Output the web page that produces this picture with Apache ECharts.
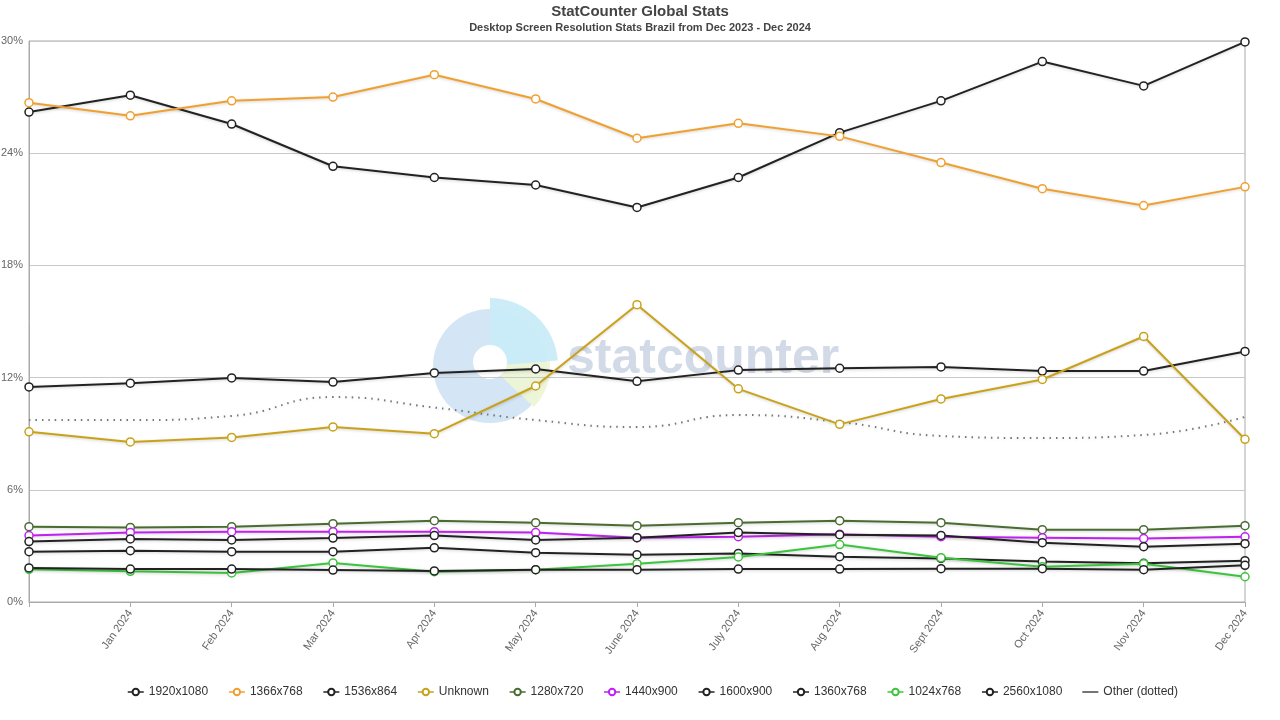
<!DOCTYPE html>
<html><head><meta charset="utf-8">
<script src="https://cdn.jsdelivr.net/npm/echarts@6/dist/echarts.min.js"></script>
<style>html,body{margin:0;padding:0;background:#fff}#c{width:1280px;height:720px}</style>
</head><body><div id="c"></div>
<script>
const months = ['Dec 2023','Jan 2024','Feb 2024','Mar 2024','Apr 2024','May 2024','June 2024','July 2024','Aug 2024','Sept 2024','Oct 2024','Nov 2024','Dec 2024'];
const yTicks = [0, 6, 12, 18, 24, 30];
const r1920x1080 = [26.2, 27.1, 25.56, 23.3, 22.7, 22.3, 21.1, 22.7, 25.1, 26.8, 28.9, 27.6, 29.95];
const r1366x768 = [26.7, 26.0, 26.8, 27.0, 28.2, 26.9, 24.8, 25.6, 24.9, 23.5, 22.1, 21.2, 22.2];
const r1536x864 = [11.5, 11.7, 11.98, 11.76, 12.25, 12.46, 11.8, 12.4, 12.5, 12.57, 12.35, 12.35, 13.4];
const rUnknown = [9.1, 8.56, 8.8, 9.36, 9.0, 11.55, 15.9, 11.4, 9.5, 10.86, 11.9, 14.2, 8.7];
const r1280x720 = [4.03, 3.99, 4.03, 4.19, 4.35, 4.24, 4.08, 4.24, 4.35, 4.24, 3.87, 3.87, 4.08];
const r1440x900 = [3.55, 3.72, 3.76, 3.76, 3.76, 3.71, 3.44, 3.49, 3.62, 3.49, 3.44, 3.39, 3.49];
const r1600x900 = [3.23, 3.37, 3.32, 3.42, 3.55, 3.32, 3.44, 3.71, 3.6, 3.56, 3.17, 2.96, 3.12];
const r1360x768 = [2.69, 2.74, 2.69, 2.69, 2.90, 2.64, 2.53, 2.60, 2.42, 2.33, 2.16, 2.07, 2.21];
const r1024x768 = [1.75, 1.64, 1.55, 2.09, 1.62, 1.73, 2.05, 2.41, 3.07, 2.37, 1.89, 2.05, 1.35];
const r2560x1080 = [1.82, 1.76, 1.76, 1.71, 1.66, 1.73, 1.73, 1.76, 1.76, 1.78, 1.78, 1.73, 1.96];
const rOther = [9.73, 9.73, 9.95, 10.96, 10.4, 9.73, 9.36, 10.0, 9.63, 8.88, 8.77, 8.93, 9.9];

const seriesDefs = [
  ['1920x1080', r1920x1080, '#222222'],
  ['1366x768', r1366x768, '#f0a030'],
  ['1536x864', r1536x864, '#222222'],
  ['Unknown', rUnknown, '#c9a21a'],
  ['1280x720', r1280x720, '#4a6b32'],
  ['1440x900', r1440x900, '#c020f0'],
  ['1600x900', r1600x900, '#222222'],
  ['1360x768', r1360x768, '#222222'],
  ['1024x768', r1024x768, '#3cc43c'],
  ['2560x1080', r2560x1080, '#222222']
];

const series = seriesDefs.map(([name, data, color]) => ({
  name, type: 'line', data,
  symbol: 'circle', symbolSize: 8, showSymbol: true,
  itemStyle: { color: '#fff', borderColor: color, borderWidth: 1.5 },
  lineStyle: { color, width: 2, shadowColor: 'rgba(0,0,0,0.18)', shadowBlur: 3, shadowOffsetY: 1 },
  emphasis: { disabled: true },
  z: 3
}));
series.push({
  name: 'Other (dotted)', type: 'line', data: rOther, smooth: 0.5,
  showSymbol: false, symbol: 'none',
  itemStyle: { color: '#666' },
  lineStyle: { color: '#777', width: 2, type: [1.5, 5], shadowColor: 'rgba(0,0,0,0.12)', shadowBlur: 3, shadowOffsetY: 1 },
  emphasis: { disabled: true },
  z: 2
});

const legendData = seriesDefs.map(([name]) => ({ name, lineStyle: { width: 1.5, shadowBlur: 0, shadowOffsetY: 0 } }));
legendData.push({ name: 'Other (dotted)', icon: 'path://M0,0M0,8M0,3.1H16V4.9H0Z', itemStyle: { color: '#666', borderWidth: 0 } });

const chart = echarts.init(document.getElementById('c'), null, { renderer: 'canvas' });
chart.setOption({
  animation: false,
  backgroundColor: '#fff',
  textStyle: { fontFamily: 'Liberation Sans, Arial, sans-serif' },
  title: [
    { text: 'StatCounter Global Stats', left: 'center', top: -1, textStyle: { fontSize: 15, fontWeight: 'bold', color: '#444' } },
    { text: 'Desktop Screen Resolution Stats Brazil from Dec 2023 - Dec 2024', left: 'center', top: 17, textStyle: { fontSize: 11, fontWeight: 'bold', color: '#444' } }
  ],
  graphic: [
    { type: 'group', z: 0, silent: true, children: [
      { type: 'circle', shape: { cx: 490, cy: 366, r: 57 }, style: { fill: '#cfe2f4', opacity: 0.9 } },
      { type: 'sector', shape: { cx: 490, cy: 366, r0: 0, r: 68, startAngle: -Math.PI/2, endAngle: -0.08 }, style: { fill: '#c9ecf8', opacity: 0.95 } },
      { type: 'sector', shape: { cx: 490, cy: 366, r0: 0, r: 60, startAngle: -0.08, endAngle: 0.75 }, style: { fill: '#eef5d6', opacity: 0.95 } },
      { type: 'circle', shape: { cx: 490, cy: 362, r: 17 }, style: { fill: '#ffffff' } },
      { type: 'text', left: 567, top: 334, style: { text: 'statcounter', font: 'bold 50px "Liberation Sans", Arial, sans-serif', fill: '#cdd6e4', opacity: 0.9 } }
    ]}
  ],
  legend: {
    bottom: 17, left: 122, itemGap: 20, itemWidth: 16, itemHeight: 8,
    textStyle: { fontSize: 12, color: '#333' },
    data: legendData
  },
  grid: { left: 29, right: 35, top: 41, bottom: 118, show: true, borderColor: '#aaa', borderWidth: 1, outerBoundsMode: 'none', containLabel: false },
  xAxis: {
    type: 'category', data: months, boundaryGap: false,
    axisLine: { lineStyle: { color: '#aaa' } },
    axisTick: { show: true, alignWithLabel: true, length: 5, lineStyle: { color: '#aaa' } },
    axisLabel: { rotate: 55, color: '#666', fontSize: 11, margin: 9, interval: 0,
      formatter: (v, i) => i === 0 ? '' : v }
  },
  yAxis: {
    type: 'value', min: yTicks[0], max: yTicks[yTicks.length - 1], interval: 6,
    axisLine: { show: true, lineStyle: { color: '#aaa' } },
    axisTick: { show: false },
    splitLine: { lineStyle: { color: '#c8c8c8' } },
    axisLabel: { formatter: '{value}%', color: '#666', fontSize: 11, margin: 6 }
  },
  series
});
</script></body></html>
